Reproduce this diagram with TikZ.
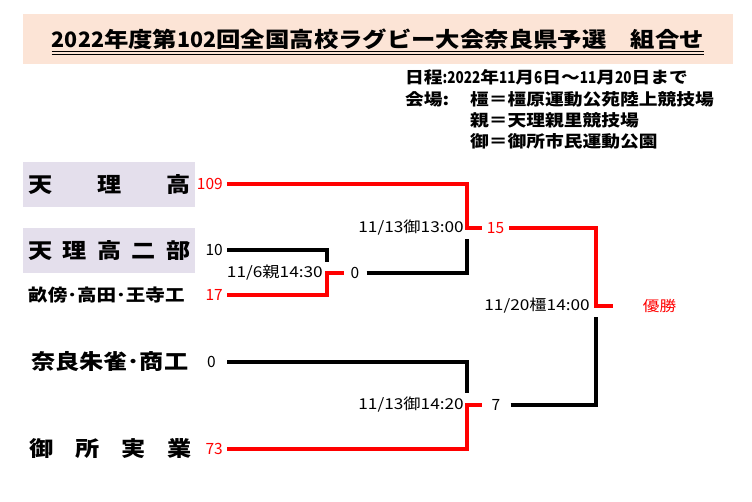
\documentclass[tikz,border=0pt]{standalone}
\usepackage{graphicx}
\usepackage{fontspec}
\newfontfamily\jp{Noto Sans CJK JP}
\newfontfamily\jpwide{Noto Sans CJK JP}[FakeStretch=1.15]
\usepackage{tikz}
\usetikzlibrary{calc}
\definecolor{titlebg}{RGB}{252, 228, 214}
\definecolor{teambg}{RGB}{228, 223, 236}
\definecolor{winred}{RGB}{255, 0, 0}
\newcommand{\squeeze}[2]{\scalebox{#1}[1]{#2}}

\tikzset{
  win/.style={draw=winred, line width=4pt},
  lose/.style={draw=black, line width=4pt},
  titletext/.style={font=\jpwide\bfseries\fontsize{21.2}{24}\selectfont, inner sep=0pt},
  infotext/.style={font=\jpwide\bfseries\fontsize{16.3}{19}\selectfont, anchor=west, inner sep=0pt},
  team/.style={font=\jpwide\bfseries\fontsize{21}{24}\selectfont, inner xsep=5pt, minimum height=45pt, anchor=west},
  teambox/.style={team, fill=teambg},
  score/.style={font=\jp\fontsize{15.5}{18}\selectfont, inner xsep=4pt, inner ysep=0pt},
  matchlbl/.style={font=\jpwide\fontsize{15}{18}\selectfont, anchor=east, inner sep=0pt}
}

\begin{document}
\begin{tikzpicture}[x=1pt, y=-1pt]
\useasboundingbox[fill=white] (0,0) rectangle (752,502);

% title
\fill[titlebg] (23,14) rectangle (733,64);
\node[titletext, anchor=base] (title) at (378,48) {\squeeze{0.88}{2022}年度第\squeeze{0.88}{102}回全国高校ラグビー大会奈良県予選　組合せ};
\draw[line width=1.4pt] ($(title.base west)+(0,3.6)$) -- ($(title.base east)+(0,3.6)$);
\draw[line width=0.8pt] ($(title.base west)+(0,6.2)$) -- ($(title.base east)+(0,6.2)$);

\node[infotext] (sched) at (405,77) {日程\squeeze{0.72}{:2022}年\squeeze{0.72}{11}月\squeeze{0.72}{6}日～\squeeze{0.72}{11}月\squeeze{0.72}{20}日まで};
\node[infotext] (venue) at (405,99) {会場:};
\node[infotext] (v1) at (470,99) {橿＝橿原運動公苑陸上競技場};
\node[infotext] (v2) at (470,120) {親＝天理親里競技場};
\node[infotext] (v3) at (470,141) {御＝御所市民運動公園};

% teams
\node[teambox] (tenri) at (23,184.5) {\hbox to 162pt{天\hfill 理\hfill 高}};
\node[teambox] (tenri2) at (23,250.5) {\hbox to 162pt{天\hfill 理\hfill 高\hfill 二\hfill 部}};
\node[team, font=\jpwide\bfseries\fontsize{17}{20}\selectfont] (unebi) at (23,295) {畝傍･高田･王寺工};
\node[team] (nara) at (26,362) {奈良朱雀･商工};
\node[team] (gose) at (24,449) {\hbox to 162pt{御\hfill 所\hfill 実\hfill 業}};

% scores
\node[score, anchor=east, text=winred] (s109) at (227,184) {109};
\node[score, anchor=east] (s10) at (227,250) {10};
\node[score, anchor=east, text=winred] (s17) at (227,295) {17};
\node[score, anchor=east, inner xsep=11pt] (s0) at (227,362) {0};
\node[score, anchor=east, text=winred] (s73) at (227,449) {73};
\node[score, inner xsep=7pt] (w0) at (355,273) {0};
\node[score, inner xsep=5pt, text=winred] (w15) at (495.5,228) {15};
\node[score, inner xsep=10pt] (w7) at (496,405) {7};
\node[font=\jpwide\fontsize{14.5}{17}\selectfont, text=winred] (champ) at (659.5,306) {優勝};

% match dates
\node[matchlbl] (lbl1) at (323,273) {11/6親14:30};
\node[matchlbl] (lblA) at (464,228) {11/13御13:00};
\node[matchlbl] (lblB) at (464,405) {11/13御14:20};
\node[matchlbl] (lblF) at (590,306) {11/20橿14:00};

% bracket
\coordinate (j1) at (327,273);
\coordinate (j1hi) at (327,262);
\coordinate (jA) at (467,228);
\coordinate (jAlo) at (467,239);
\coordinate (jB) at (467,405);
\coordinate (jBhi) at (467,393);
\coordinate (jF) at (596,306);
\coordinate (jFlo) at (596,317);
\coordinate (fin) at (613,306);

\draw[lose] (s10.east) -| (j1hi);
\draw[win] (s17.east) -| (j1) -- (w0.west);
\draw[win] (s109.east) -| (jA) -- (w15.west);
\draw[lose] (w0.east) -| (jAlo);
\draw[lose] (s0.east) -| (jBhi);
\draw[win] (s73.east) -| (jB) -- (w7.west);
\draw[win] (w15.east) -| (jF) -- (fin);
\draw[lose] (w7.east) -| (jFlo);
\end{tikzpicture}
\end{document}
